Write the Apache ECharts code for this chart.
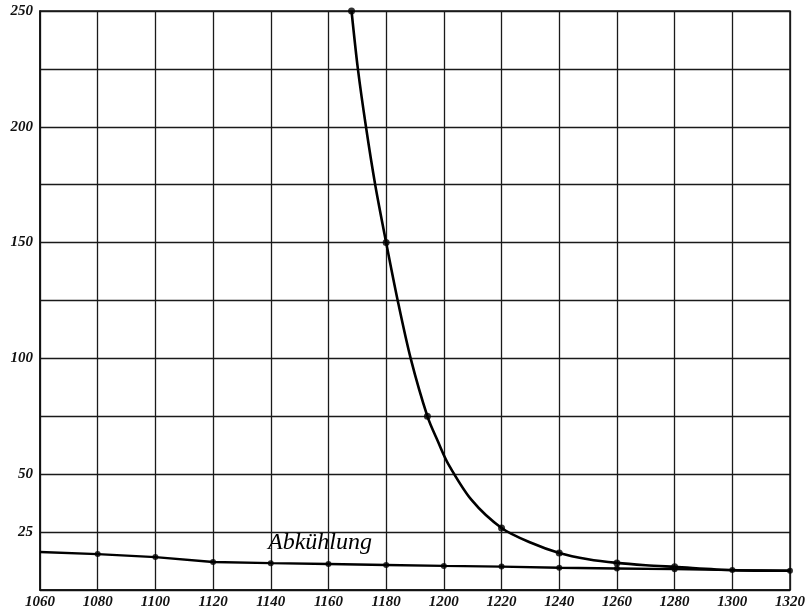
<!DOCTYPE html>
<html>
<head>
<meta charset="utf-8">
<script src="https://cdn.jsdelivr.net/npm/echarts@6/dist/echarts.min.js"></script>
<style>html,body{margin:0;padding:0;background:#fff}#c{width:809px;height:612px}</style>
</head>
<body>
<div id="c"></div>
<script>
// Upper curve trace
const heatCurve = [[1168,250],[1170.2,225],[1173,200],[1176.2,175],[1180,150],[1184,125],[1188.5,100],[1194.3,75],[1198,64],[1201.5,54.5],[1209.6,38.9],[1220,26.8],[1230,20.5],[1240,16],[1250,13.3],[1260,11.7],[1270,10.7],[1280,10],[1300,8.6],[1320,8.3]];
// Measured points on upper curve
const heatPoints = [[1168,250],[1180,150],[1194.3,75],[1220,26.8],[1240,16],[1260,11.7],[1280,10]];
// Cooling line (Abkühlung)
const coolX = [1060,1080,1100,1120,1140,1160,1180,1200,1220,1240,1260,1280,1300,1320];
const coolY = [16.4,15.5,14.2,12.1,11.6,11.2,10.8,10.4,10.1,9.6,9.3,9.0,8.6,8.3];
const coolMarkX = [1080,1100,1120,1140,1160,1180,1200,1220,1240,1260,1280,1300,1320];
const yLabels = [25,50,100,150,200,250];
const coolLabel = 'Abkühlung';

const coolData = coolX.map((x,i)=>[x,coolY[i]]);
const coolMarks = coolData.filter(d=>coolMarkX.includes(d[0]));

const labelFont = {fontFamily:'Liberation Serif', fontStyle:'italic', fontWeight:'bold', fontSize:15, color:'#111'};

const chart = echarts.init(document.getElementById('c'), null, {renderer:'canvas'});
chart.setOption({
  animation:false,
  backgroundColor:'#fff',
  grid:{left:40,right:19,top:11,bottom:22,containLabel:false},
  xAxis:{type:'value',min:1060,max:1320,interval:20,
    axisLine:{show:true,lineStyle:{color:'#111',width:1.5}},
    axisTick:{show:false},
    splitLine:{show:true,lineStyle:{color:'#1a1a1a',width:1.3}},
    axisLabel:Object.assign({margin:5,formatter:v=>String(v)},labelFont)},
  yAxis:{type:'value',min:0,max:250,interval:25,
    axisLine:{show:true,lineStyle:{color:'#111',width:1.5}},
    axisTick:{show:false},
    splitLine:{show:true,lineStyle:{color:'#1a1a1a',width:1.3}},
    axisLabel:Object.assign({margin:7,formatter:v=>yLabels.includes(v)?String(v):''},labelFont)},
  graphic:[
    {type:'rect',shape:{x:40,y:11,width:750,height:579},style:{fill:'none',stroke:'#111',lineWidth:1.5},silent:true},
    {type:'text',left:268,top:531,z:10,style:{text:coolLabel,fontFamily:'Liberation Serif',fontStyle:'italic',fontSize:24,fill:'#000'}}
  ],
  series:[
    {type:'line',data:heatCurve,smooth:0.3,showSymbol:false,lineStyle:{color:'#000',width:2.6},z:5},
    {type:'scatter',data:heatPoints,symbolSize:7,itemStyle:{color:'#000'},z:6},
    {type:'line',data:coolData,smooth:false,showSymbol:false,lineStyle:{color:'#000',width:2.4},z:5},
    {type:'scatter',data:coolMarks,symbolSize:6,itemStyle:{color:'#000'},z:6}
  ]
});
</script>
</body>
</html>
